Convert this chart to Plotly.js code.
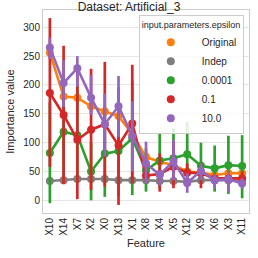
<!DOCTYPE html>
<html>
<head>
<meta charset="utf-8">
<script src="https://cdn.plot.ly/plotly-3.0.1.min.js"></script>
<style>html,body{margin:0;padding:0;background:#fff;}#chart{width:258px;height:258px;}</style>
</head>
<body>
<div id="chart"></div>
<script>
const features = ["X10","X14","X7","X2","X0","X13","X1","X8","X4","X5","X12","X9","X6","X3","X11"];
const seriesNames = ["Original","Indep","0.0001","0.1","10.0"];
const seriesColors = ["#ff7f0e","#7f7f7f","#2ca02c","#d62728","#9467bd"];

const originalMean = [256,180,178,163,154,146,115,75,67,61,50,48,44,47,47];
const originalLow  = [245,170,168,152,143,135,105,68,60,55,45,42,39,41,41];
const originalHigh = [268,195,190,175,165,158,125,83,74,68,56,54,50,53,53];

const indepMean = [33.5,35,37,37,37,35,35,35,33.5,33.5,32,35,35,35,33.5];
const indepLow  = [30,32,34,34,34,32,32,32,30,30,29,32,32,32,30];
const indepHigh = [37,38,40,40,40,38,38,38,37,37,35,38,38,38,37];

const eps0001Mean = [82,119,113,50,81,85.5,107.5,52,69,73,80,60,55.5,61,59.5];
const eps0001Low  = [-5,40,30,0,6,8,9,15,21,35,44,44,15,11,3.5];
const eps0001High = [170,200,200,100,150,170,208,90,118,125,136,100,95,112,113];

const eps01Mean = [186,148,105,122.5,132,95,133,43,45.6,58,48,47,38,38,38];
const eps01Low  = [58,28,2,18,23.7,-8,29.5,30,15,21,32,21,30,30,25];
const eps01High = [316,268,228,228,240,196,235,60,81.5,101.7,64,64,45,45,50];

const eps10Mean = [265,203.5,229,178,132,163,111.6,64,44.5,67.6,30,51,34.7,36.4,29];
const eps10Low  = [245,162,197,148,76,110,50,29,26,35,13,35,20,15,20];
const eps10High = [282,243,250,217,185,215.6,172,101.7,52,104.6,47,64,45,50,38];

const allMeans = [originalMean, indepMean, eps0001Mean, eps01Mean, eps10Mean];
const allLows  = [originalLow, indepLow, eps0001Low, eps01Low, eps10Low];
const allHighs = [originalHigh, indepHigh, eps0001High, eps01High, eps10High];

const traces = [];
for (let s = 0; s < seriesNames.length; s++) {
  const m = allMeans[s];
  traces.push({
    type: "scatter", mode: "lines+markers", x: features, y: m,
    name: seriesNames[s], showlegend: false,
    line: {color: seriesColors[s], width: 2.6},
    marker: {color: seriesColors[s], size: 8},
    error_y: {type: "data", symmetric: false,
      array: m.map((v, i) => allHighs[s][i] - v),
      arrayminus: m.map((v, i) => v - allLows[s][i]),
      color: seriesColors[s], thickness: 2.7, width: 0}
  });
}
for (let s = 0; s < seriesNames.length; s++) {
  traces.push({
    type: "scatter", mode: "markers", x: [null], y: [null],
    name: seriesNames[s], showlegend: true,
    marker: {color: seriesColors[s], size: 8}
  });
}

const layout = {
  width: 258, height: 258,
  margin: {l: 43, r: 9, t: 10, b: 45},
  paper_bgcolor: "#fff", plot_bgcolor: "#fff",
  font: {family: "Liberation Sans, Arial, sans-serif", size: 10, color: "#262626"},
  title: {text: "Dataset: Artificial_3", font: {size: 12, color: "#262626"},
    x: 0.5, xref: "container", xanchor: "center", y: 0.975, yref: "container", yanchor: "middle"},
  xaxis: {type: "category", categoryorder: "array", categoryarray: features,
    range: [-0.5, 14.5], tickangle: -90, showgrid: false, zeroline: false,
    showline: true, mirror: true, linecolor: "#cccccc", linewidth: 1,
    ticks: "", tickfont: {size: 10},
    title: {text: "Feature", font: {size: 11}, standoff: 4}},
  yaxis: {range: [-22, 330], tickvals: [0,50,100,150,200,250,300],
    showgrid: true, gridcolor: "#e5e5e5", gridwidth: 1, zeroline: false,
    showline: true, mirror: true, linecolor: "#cccccc", linewidth: 1,
    ticks: "", tickfont: {size: 10},
    title: {text: "Importance value", font: {size: 11}, standoff: 6}},
  showlegend: true,
  legend: {x: 0.465, y: 0.975, xanchor: "left", yanchor: "top",
    bgcolor: "rgba(255,255,255,0.85)", bordercolor: "#cccccc", borderwidth: 1,
    font: {size: 10}, tracegroupgap: 0, itemwidth: 52,
    title: {text: "input.parameters.epsilon", font: {size: 9}}}
};

Plotly.newPlot("chart", traces, layout, {staticPlot: true, displayModeBar: false});
</script>
</body>
</html>
